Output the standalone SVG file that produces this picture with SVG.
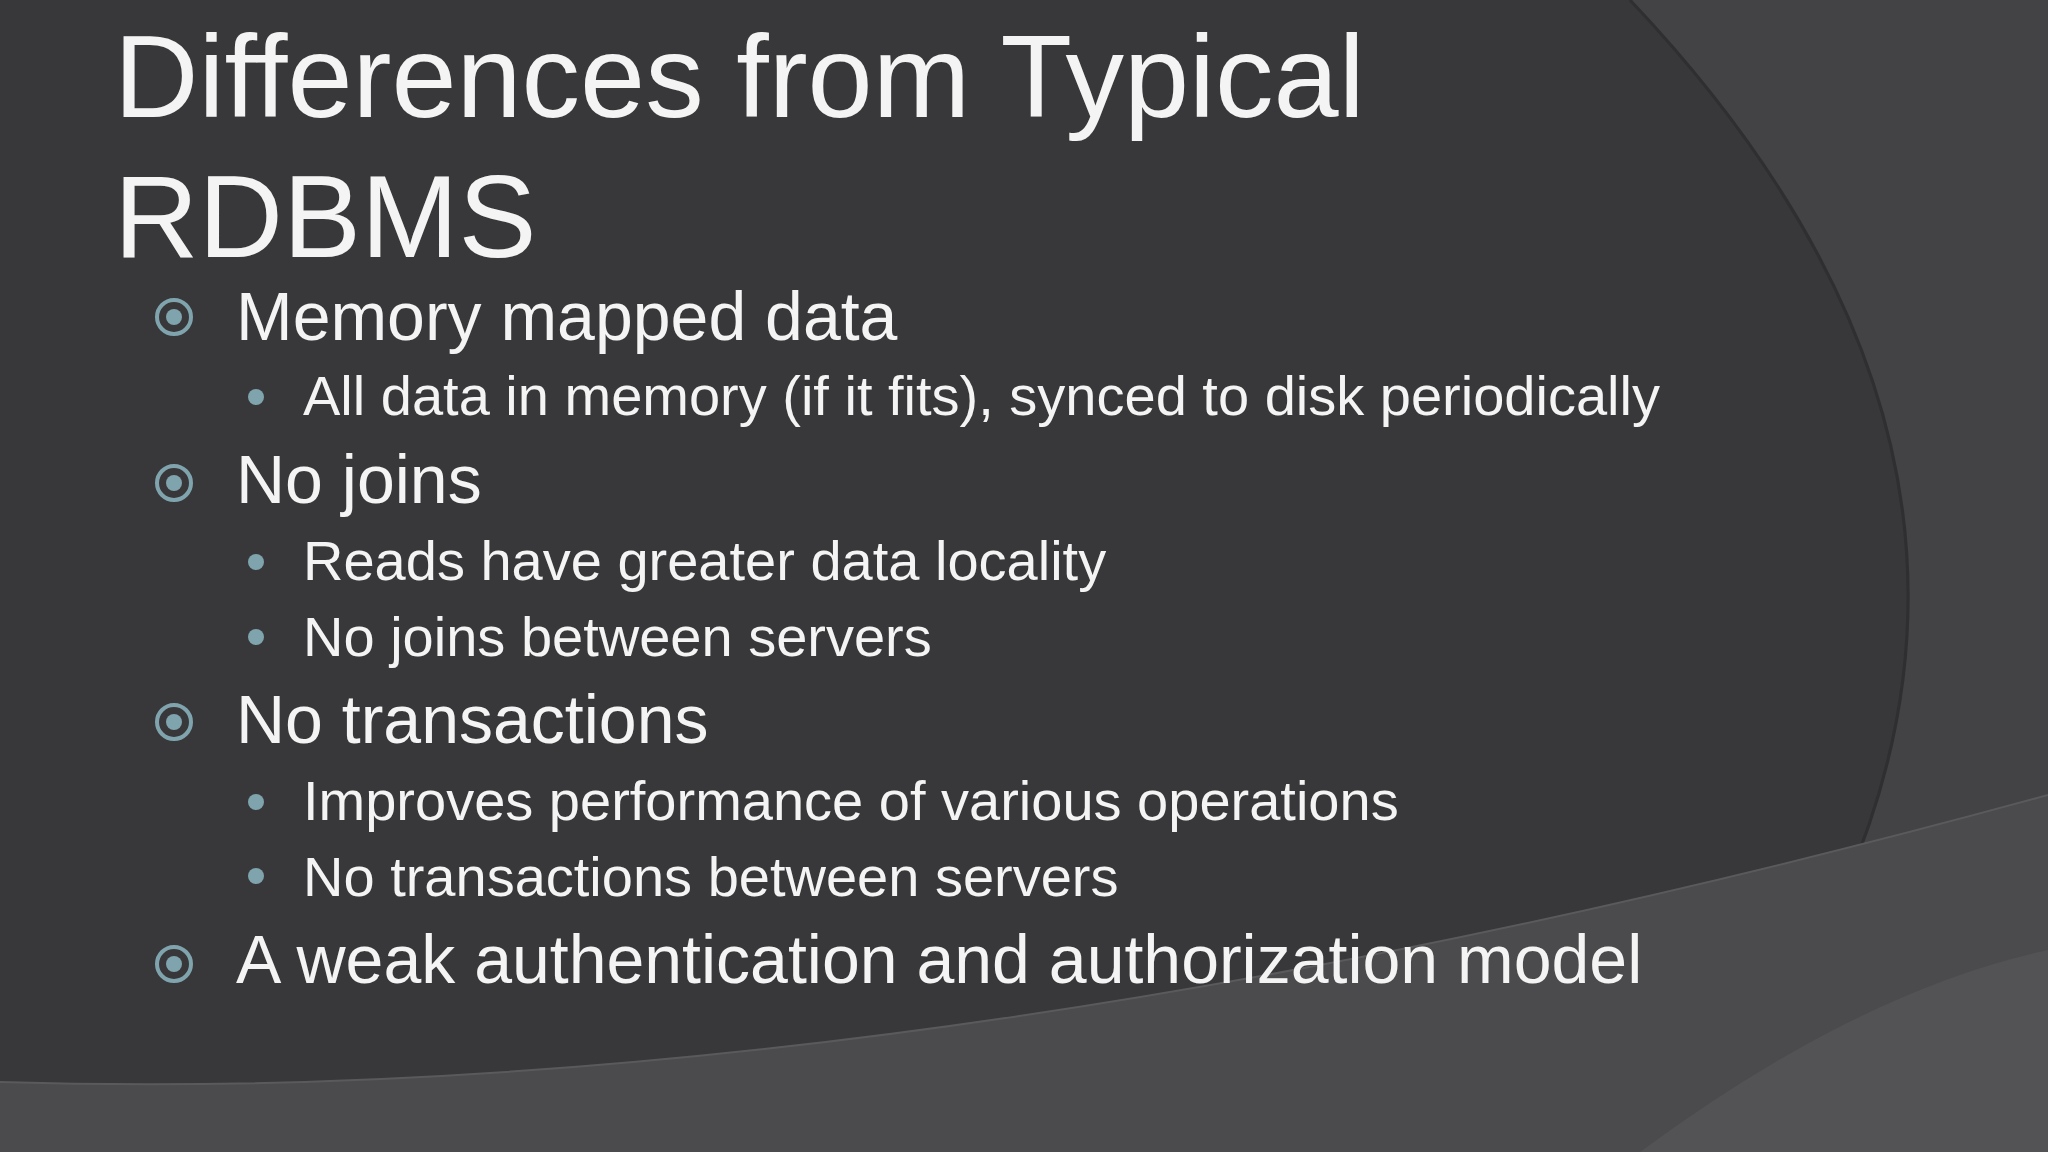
<svg xmlns="http://www.w3.org/2000/svg" width="2048" height="1152" viewBox="0 0 2048 1152">
<style>
text{font-family:"Liberation Sans",Arial,sans-serif;fill:#f4f4f4}
.t{font-size:117px}
.l1{font-size:68px}
.l2{font-size:56px}
.ring{fill:none;stroke:#7fa4ad;stroke-width:4}
.dot{fill:#7fa4ad}
</style>
<rect width="2048" height="1152" fill="#38383a"/>
<path d="M1630,0 Q2160,560 1680,1152 L2048,1152 L2048,0 Z" fill="#434345"/>
<path d="M1630,0 Q2160,560 1680,1152" fill="none" stroke="#2f2f31" stroke-width="3"/>
<path d="M0,1082 Q900,1110 2048,795 L2048,1152 L0,1152 Z" fill="#4b4b4d"/>
<path d="M0,1082 Q900,1110 2048,795" fill="none" stroke="#5a5a5c" stroke-width="2"/>
<path d="M1640,1152 Q1860,990 2048,950 L2048,1152 Z" fill="#535355"/>
<g id="title">
<text class="t" x="114" y="117">Differences from Typical</text>
<text class="t" x="114" y="257">RDBMS</text>
</g>
<g id="b1"><circle class="ring" cx="174" cy="317" r="17"/><circle class="dot" cx="174" cy="317" r="8"/><text class="l1" x="236" y="340">Memory mapped data</text></g>
<g id="b1a"><circle class="dot" cx="256" cy="397" r="8"/><text class="l2" x="303" y="415">All data in memory (if it fits), synced to disk periodically</text></g>
<g id="b2"><circle class="ring" cx="174" cy="483" r="17"/><circle class="dot" cx="174" cy="483" r="8"/><text class="l1" x="236" y="503">No joins</text></g>
<g id="b2a"><circle class="dot" cx="256" cy="562" r="8"/><text class="l2" x="303" y="580">Reads have greater data locality</text></g>
<g id="b2b"><circle class="dot" cx="256" cy="637" r="8"/><text class="l2" x="303" y="656">No joins between servers</text></g>
<g id="b3"><circle class="ring" cx="174" cy="722" r="17"/><circle class="dot" cx="174" cy="722" r="8"/><text class="l1" x="236" y="743">No transactions</text></g>
<g id="b3a"><circle class="dot" cx="256" cy="802" r="8"/><text class="l2" x="303" y="820">Improves performance of various operations</text></g>
<g id="b3b"><circle class="dot" cx="256" cy="876" r="8"/><text class="l2" x="303" y="896">No transactions between servers</text></g>
<g id="b4"><circle class="ring" cx="174" cy="964" r="17"/><circle class="dot" cx="174" cy="964" r="8"/><text class="l1" x="236" y="983">A weak authentication and authorization model</text></g>
<g id="connectors"/>
</svg>
